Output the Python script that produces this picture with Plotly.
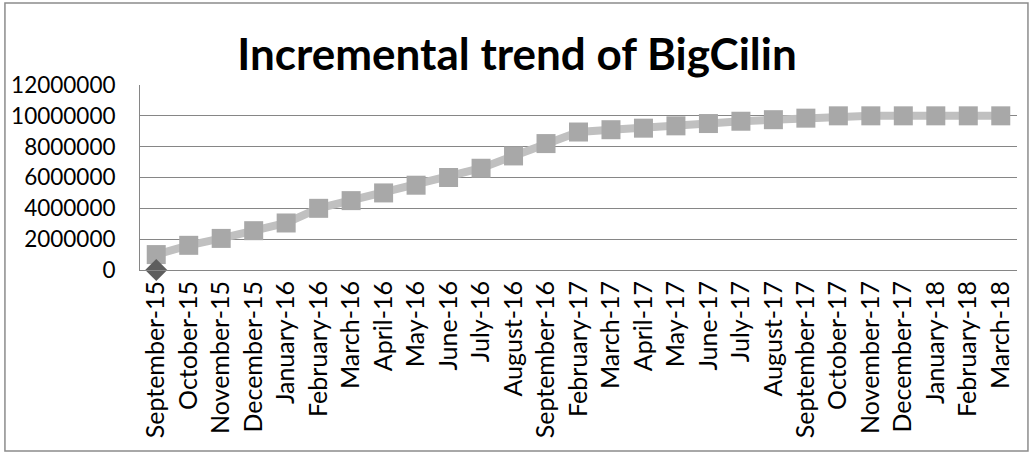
import plotly.graph_objects as go

months = ["September-15", "October-15", "November-15", "December-15", "January-16",
          "February-16", "March-16", "April-16", "May-16", "June-16", "July-16",
          "August-16", "September-16", "February-17", "March-17", "April-17", "May-17",
          "June-17", "July-17", "August-17", "September-17", "October-17", "November-17",
          "December-17", "January-18", "February-18", "March-18"]

downloads = [1000000, 1600000, 2050000, 2550000, 3050000, 4000000, 4500000, 5000000,
             5500000, 6000000, 6600000, 7400000, 8200000, 8950000, 9100000, 9200000,
             9350000, 9500000, 9650000, 9750000, 9850000, 10000000, 10000000, 10000000,
             10000000, 10000000, 10000000]

start_months = ["September-15"]
start_values = [0]

y_ticks = [0, 2000000, 4000000, 6000000, 8000000, 10000000, 12000000]

fig = go.Figure()
fig.add_trace(go.Scatter(
    x=months, y=downloads, mode="lines+markers",
    line=dict(color="#C0C0C0", width=8),
    marker=dict(symbol="square", size=19, color="#A8A8A8"),
    cliponaxis=False, showlegend=False,
))
fig.add_trace(go.Scatter(
    x=start_months, y=start_values, mode="markers",
    marker=dict(symbol="diamond", size=17, color="#5E5E5E"),
    cliponaxis=False, showlegend=False,
))

fig.update_layout(
    width=1034, height=461,
    margin=dict(l=140, r=17, t=85, b=191, autoexpand=False),
    paper_bgcolor="white", plot_bgcolor="white",
    font=dict(family="Lato", color="#000000"),
    title=dict(text="<b>Incremental trend of BigCilin</b>",
               font=dict(family="Lato", size=44, color="#000000"),
               x=0.5, xanchor="center", xref="container",
               y=0.881, yanchor="middle", yref="container", automargin=False),
    xaxis=dict(type="category", tickangle=-90, tickfont=dict(size=25),
               showgrid=False, showline=True, linecolor="#868686", linewidth=1,
               ticks="", range=[-0.5, len(months) - 0.5], automargin=False),
    yaxis=dict(range=[0, 12000000], tickvals=y_ticks,
               ticktext=[str(v) for v in y_ticks], tickfont=dict(size=22.5),
               showgrid=True, gridcolor="#868686", gridwidth=1,
               showline=True, linecolor="#868686", linewidth=1,
               zeroline=False, ticks="", ticklabelstandoff=19, automargin=False),
    shapes=[dict(type="rect", xref="paper", yref="paper",
                 x0=-0.154, x1=1.0125, y0=-0.978, y1=1.443,
                 line=dict(color="#8C8C8C", width=1.5), fillcolor="rgba(0,0,0,0)",
                 layer="below")],
)

fig.write_html("out.html", config={"displayModeBar": False},
               post_script="document.body.style.margin='0';document.body.style.padding='0';")
